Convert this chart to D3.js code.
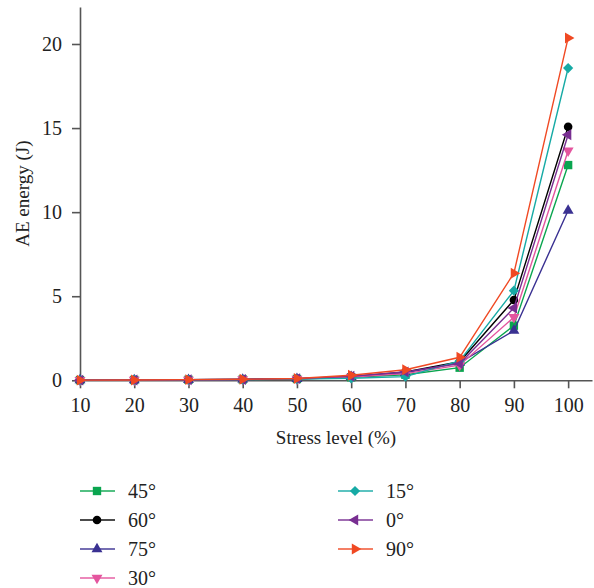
<!DOCTYPE html>
<html>
<head>
<meta charset="utf-8">
<script src="https://cdn.jsdelivr.net/npm/d3@7"></script>
<style>
  html, body { margin: 0; padding: 0; background: #fff; }
</style>
</head>
<body>
<div id="frame"></div>
<script>
const width = 594
const height = 588
const margin = { left: 80, top: 7, right: 2, bottom: 208 }
const font = '"Liberation Serif", "Times New Roman", "DejaVu Serif", serif'

const stress = [10, 20, 30, 40, 50, 60, 70, 80, 90, 100]
const xTicks = [10, 20, 30, 40, 50, 60, 70, 80, 90, 100]
const yTicks = [0, 5, 10, 15, 20]

const angles = ['45°', '60°', '75°', '30°', '15°', '0°', '90°']
const colors = ['#0aa54f', '#000000', '#3a3192', '#e4559e', '#16aaa5', '#782e91', '#f04923']
const shapes = ['square', 'circle', 'up', 'down', 'diamond', 'left', 'right']

const energy45 = [0.01, 0.02, 0.03, 0.05, 0.08, 0.18, 0.33, 0.75, 3.25, 12.8]
const energy60 = [0.01, 0.02, 0.03, 0.05, 0.09, 0.22, 0.5, 1.1, 4.78, 15.08]
const energy75 = [0.01, 0.02, 0.03, 0.05, 0.09, 0.2, 0.45, 1.05, 2.95, 10.1]
const energy30 = [0.01, 0.02, 0.03, 0.05, 0.08, 0.2, 0.4, 0.9, 3.75, 13.65]
const energy15 = [0.01, 0.02, 0.03, 0.04, 0.07, 0.12, 0.22, 1.15, 5.33, 18.57]
const energy0 = [0.01, 0.02, 0.03, 0.05, 0.1, 0.24, 0.5, 1.0, 4.3, 14.6]
const energy90 = [0.01, 0.02, 0.04, 0.06, 0.11, 0.3, 0.63, 1.37, 6.37, 20.36]
const series = [energy45, energy60, energy75, energy30, energy15, energy0, energy90]

const x = d3.scaleLinear()
  .domain([10, 104.4])
  .range([margin.left, width - margin.right])

const y = d3.scaleLinear()
  .domain([0, 22.2])
  .range([height - margin.bottom + 0.3, margin.top])

const svg = d3.select('#frame')
  .append('svg')
  .attr('width', width)
  .attr('height', height)
  .style('font-family', font)

function symbolPath(shape) {
  switch (shape) {
    case 'square': return d3.symbol(d3.symbolSquare, 70)()
    case 'circle': return d3.symbol(d3.symbolCircle, 58)()
    case 'diamond': return d3.symbol(d3.symbolSquare, 52)()
    default: return d3.symbol(d3.symbolTriangle, 52)()
  }
}

function symbolRotate(shape) {
  return { diamond: 45, down: 180, left: -90, right: 90 }[shape] || 0
}

function styleAxis(g) {
  g.attr('font-family', null)
  g.select('.domain').attr('stroke', '#555').attr('stroke-width', 1.6)
  g.selectAll('.tick line').attr('stroke', '#555').attr('stroke-width', 1.6)
  g.selectAll('.tick text').attr('font-size', 20).attr('fill', '#222')
}

// axes
svg.append('g')
  .attr('transform', `translate(0,${y(0)})`)
  .call(d3.axisBottom(x).tickValues(xTicks).tickSize(8).tickSizeOuter(0).tickPadding(10))
  .call(styleAxis)

svg.append('g')
  .attr('transform', `translate(${margin.left},0)`)
  .call(d3.axisLeft(y).tickValues(yTicks).tickSize(8).tickSizeOuter(0).tickPadding(10))
  .call(styleAxis)

svg.append('text')
  .attr('x', 336)
  .attr('y', 444)
  .attr('text-anchor', 'middle')
  .attr('font-size', 19)
  .attr('fill', '#222')
  .text('Stress level (%)')

svg.append('text')
  .attr('transform', `translate(29,${(y(0) + margin.top) / 2}) rotate(-90)`)
  .attr('text-anchor', 'middle')
  .attr('font-size', 19)
  .attr('fill', '#222')
  .text('AE energy (J)')

// lines and markers
const line = d3.line()
  .x((d, i) => x(stress[i]))
  .y(d => y(d))

series.forEach((values, k) => {
  const g = svg.append('g')
  g.append('path')
    .attr('d', line(values))
    .attr('fill', 'none')
    .attr('stroke', colors[k])
    .attr('stroke-width', 1.4)
  g.selectAll('path.mark')
    .data(values)
    .join('path')
    .attr('class', 'mark')
    .attr('d', symbolPath(shapes[k]))
    .attr('transform', (d, i) => `translate(${x(stress[i])},${y(d)}) rotate(${symbolRotate(shapes[k])})`)
    .attr('fill', colors[k])
})

// legend
const legend = svg.append('g')
angles.forEach((name, k) => {
  const col = k < 4 ? 0 : 1
  const row = k < 4 ? k : k - 4
  const lx = col === 0 ? 80 : 338
  const ly = 491 + row * 29
  const item = legend.append('g').attr('transform', `translate(${lx},${ly})`)
  item.append('line')
    .attr('x1', 0).attr('x2', 35)
    .attr('stroke', colors[k])
    .attr('stroke-opacity', 0.7)
    .attr('stroke-width', 2)
  item.append('path')
    .attr('d', symbolPath(shapes[k]))
    .attr('transform', `translate(17,0) rotate(${symbolRotate(shapes[k])})`)
    .attr('fill', colors[k])
  item.append('text')
    .attr('x', 48)
    .attr('y', 7)
    .attr('font-size', 20)
    .attr('fill', '#222')
    .text(name)
})
</script>
</body>
</html>
